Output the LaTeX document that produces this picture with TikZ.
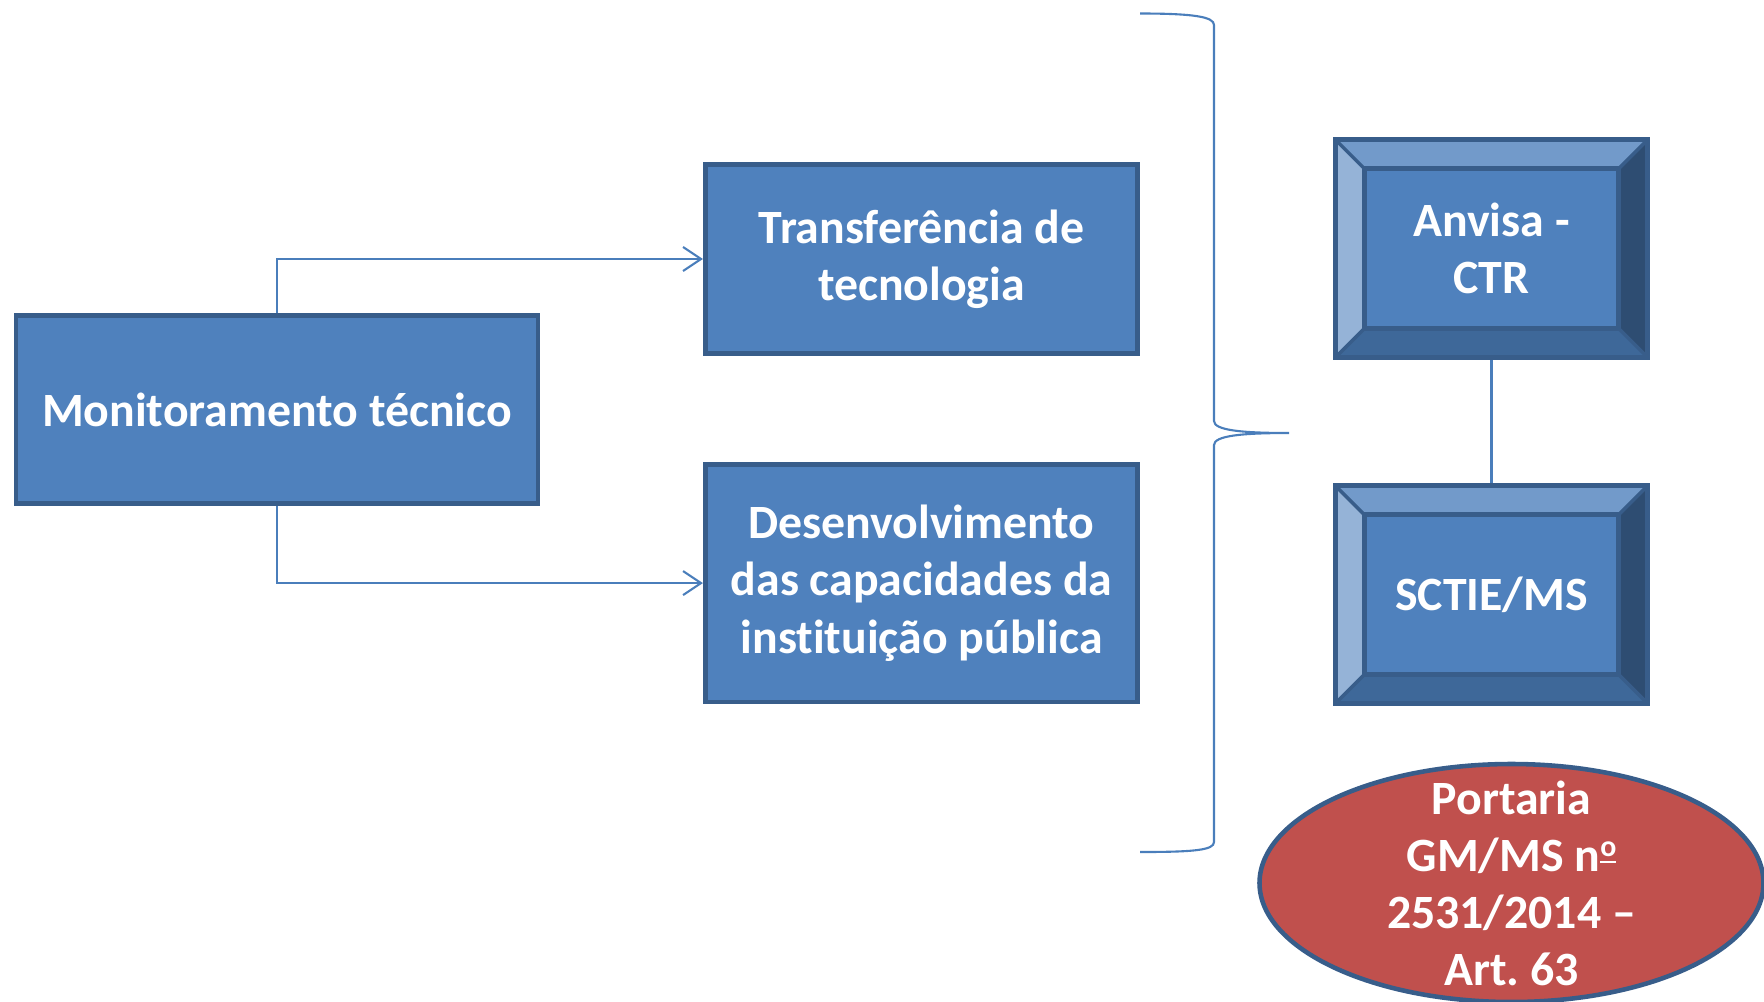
\documentclass[tikz,border=0pt]{standalone}
\usepackage{fontspec}
\setmainfont{Carlito}[Ligatures=NoCommon]
\usepackage{xcolor}
\usetikzlibrary{shapes.geometric,arrows.meta,positioning}
\frenchspacing

\definecolor{boxfill}{HTML}{4F81BD}
\definecolor{boxline}{HTML}{385D8A}
\definecolor{connline}{HTML}{4A7EBB}
\definecolor{bevtop}{HTML}{729ACA}
\definecolor{bevleft}{HTML}{95B3D7}
\definecolor{bevright}{HTML}{2E4D72}
\definecolor{bevbottom}{HTML}{3E6899}
\definecolor{leired}{HTML}{C0504D}

% underlined ordinal o
\newcommand{\ordo}{\raisebox{0.62ex}{\fontsize{8.5}{8.5}\selectfont\underline{o}}}

\begin{document}
\begin{tikzpicture}[
    bluebox/.style={rectangle, draw=boxline, line width=1.3pt, fill=boxfill, text=white, align=center,
        font=\fontsize{13.6}{16.3}\selectfont\bfseries},
    bevelbox/.style={bluebox, minimum width=3.125cm, minimum height=2.18cm, inner sep=0pt,
        path picture={
            \def\bw{0.29cm}
            \coordinate (nw) at (path picture bounding box.north west);
            \coordinate (ne) at (path picture bounding box.north east);
            \coordinate (sw) at (path picture bounding box.south west);
            \coordinate (se) at (path picture bounding box.south east);
            \fill[bevtop] (nw) -- (ne) -- ([xshift=-\bw,yshift=-\bw]ne) -- ([xshift=\bw,yshift=-\bw]nw) -- cycle;
            \fill[bevleft] (nw) -- (sw) -- ([xshift=\bw,yshift=\bw]sw) -- ([xshift=\bw,yshift=-\bw]nw) -- cycle;
            \fill[bevright] (ne) -- (se) -- ([xshift=-\bw,yshift=\bw]se) -- ([xshift=-\bw,yshift=-\bw]ne) -- cycle;
            \fill[bevbottom] (sw) -- (se) -- ([xshift=-\bw,yshift=\bw]se) -- ([xshift=\bw,yshift=\bw]sw) -- cycle;
            \draw[boxline, line width=1.3pt] ([xshift=\bw,yshift=-\bw]nw) rectangle ([xshift=-\bw,yshift=\bw]se);
            \draw[boxline, line width=1pt] (nw) -- ([xshift=\bw,yshift=-\bw]nw)
                (ne) -- ([xshift=-\bw,yshift=-\bw]ne)
                (sw) -- ([xshift=\bw,yshift=\bw]sw)
                (se) -- ([xshift=-\bw,yshift=\bw]se);
        }},
    leiellipse/.style={ellipse, draw=boxline, line width=1.3pt, fill=leired, inner sep=0pt,
        minimum width=5.04cm, minimum height=2.38cm},
    conn/.style={draw=connline, line width=0.6pt},
    arrow/.style={conn, -{Straight Barb[length=0.18cm, width=0.24cm]}}
]
\useasboundingbox (0,0) rectangle (17.64,-10.01);
\clip (0,0) rectangle (17.64,-10.01);

% left side
\node[bluebox, minimum width=5.22cm, minimum height=1.885cm] (mon) at (2.77,-4.095) {Monitoramento técnico};
\node[bluebox, minimum width=4.325cm, minimum height=1.895cm] (trans) at (9.215,-2.59) {Transferência de\\tecnologia};
\node[bluebox, minimum width=4.325cm, minimum height=2.375cm, below=1.06cm of trans] (desen) {Desenvolvimento\\das capacidades da\\instituição pública};

\draw[arrow] (mon.north) |- (trans.west);
\draw[arrow] (mon.south) |- (desen.west);

% brace
\draw[conn] (11.40,-0.135) .. controls (11.95,-0.135) and (12.14,-0.17) .. (12.14,-0.25)
    -- (12.14,-4.21) .. controls (12.14,-4.30) and (12.40,-4.33) .. (12.89,-4.33)
    .. controls (12.40,-4.33) and (12.14,-4.36) .. (12.14,-4.45)
    -- (12.14,-8.42) .. controls (12.14,-8.50) and (11.95,-8.52) .. (11.40,-8.52);

% right side
\node[bevelbox] (anvisa) at (14.915,-2.485) {Anvisa -\\CTR};
\node[bevelbox, below=1.235cm of anvisa] (sctie) {SCTIE/MS};
\draw[conn] (anvisa.south) -- (sctie.north);

\node[leiellipse, label={[text=white, align=center, font=\fontsize{13.6}{16.2}\selectfont\bfseries]center:Portaria\\GM/MS n\ordo\\2531/2014 –\\Art. 63}] (portaria) at (15.115,-8.83) {};
\end{tikzpicture}
\end{document}
